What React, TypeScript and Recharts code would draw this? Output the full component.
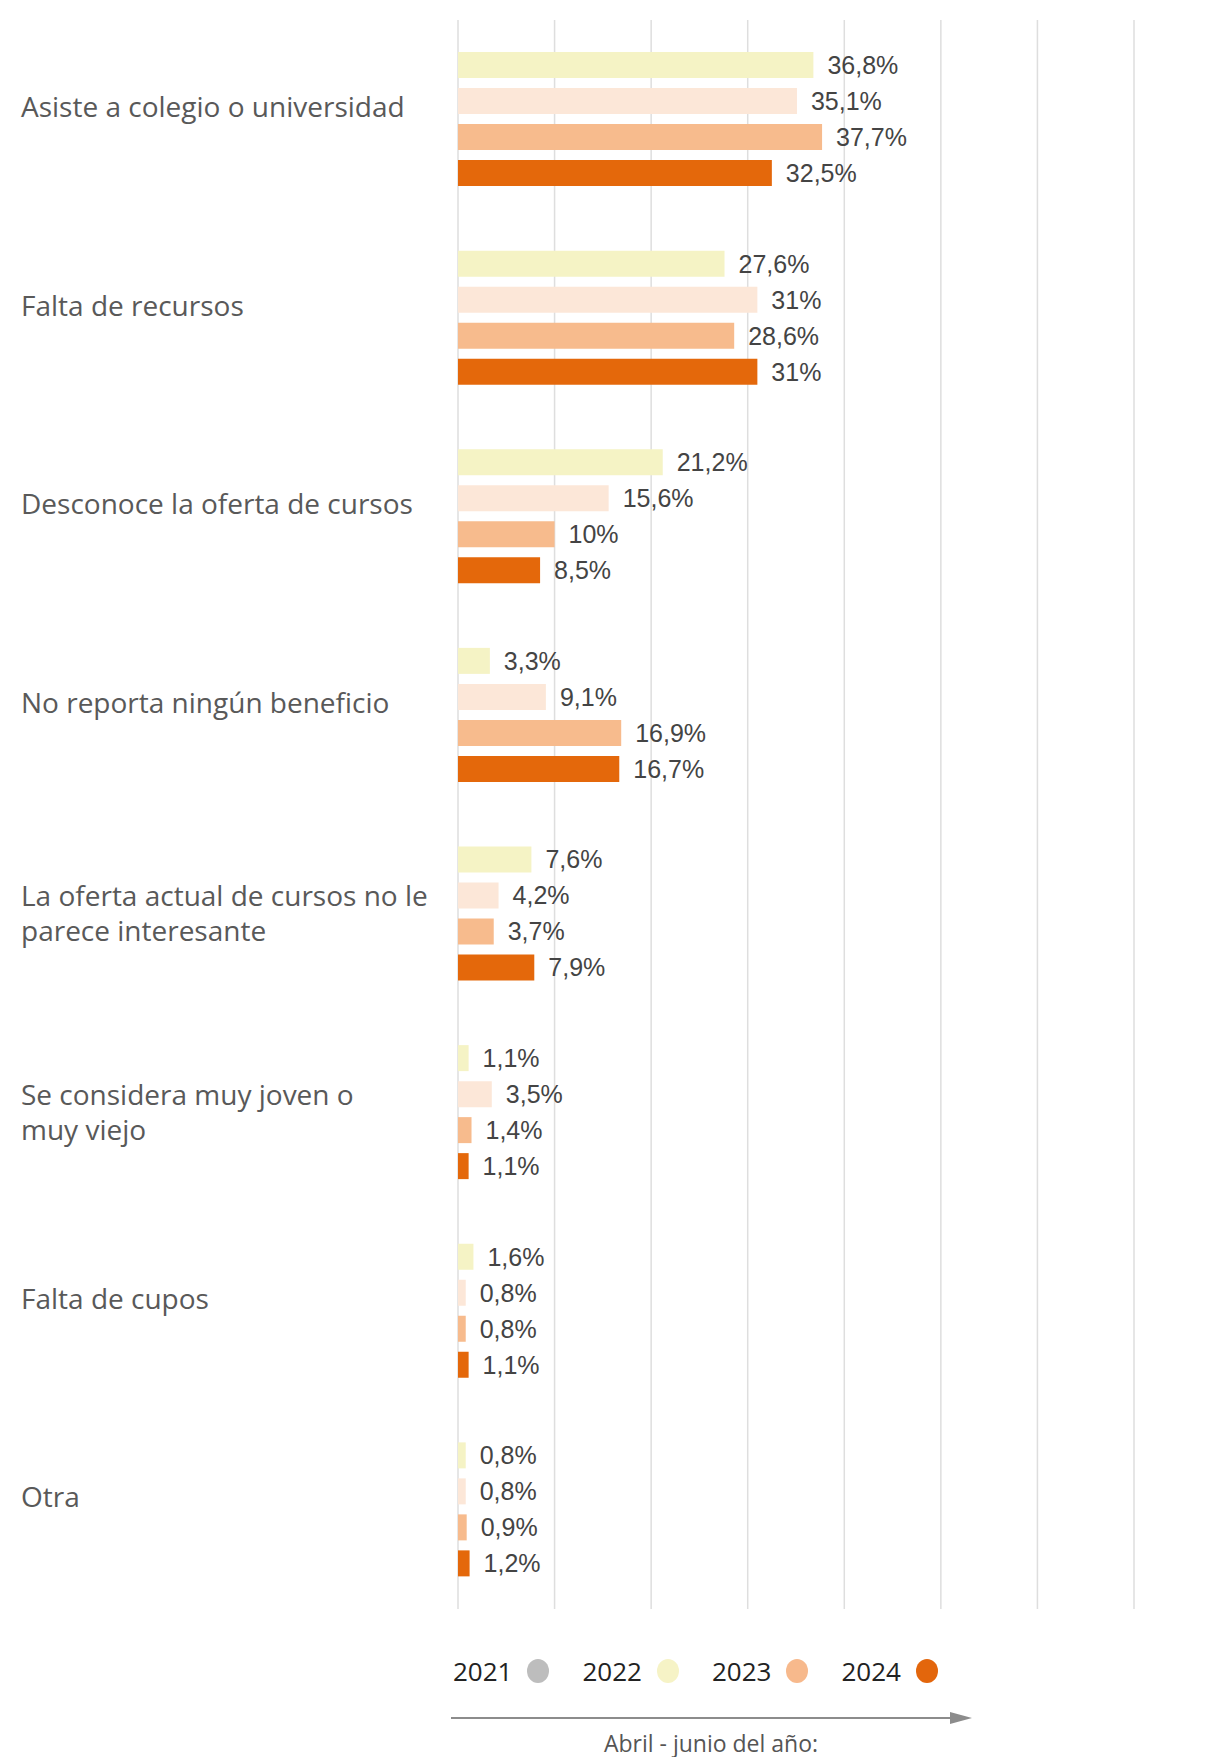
import React from 'react';
import { BarChart, Bar, XAxis, YAxis, CartesianGrid, LabelList } from 'recharts';

const categories = [
  'Asiste a colegio o universidad',
  'Falta de recursos',
  'Desconoce la oferta de cursos',
  'No reporta ningún beneficio',
  'La oferta actual de cursos no le\nparece interesante',
  'Se considera muy joven o\nmuy viejo',
  'Falta de cupos',
  'Otra',
];

const values2021 = [36.8, 27.6, 21.2, 3.3, 7.6, 1.1, 1.6, 0.8];
const values2022 = [35.1, 31, 15.6, 9.1, 4.2, 3.5, 0.8, 0.8];
const values2023 = [37.7, 28.6, 10, 16.9, 3.7, 1.4, 0.8, 0.9];
const values2024 = [32.5, 31, 8.5, 16.7, 7.9, 1.1, 1.1, 1.2];

const xTicks = [0, 10, 20, 30, 40, 50, 60, 70];

const legendYears = ['2021', '2022', '2023', '2024'];
const legendColors = ['#bdbdbd', '#f6f3c6', '#f7b98c', '#e3660c'];

const series = [
  { key: 'v2021', name: '2021', color: '#f5f3c5' },
  { key: 'v2022', name: '2022', color: '#fce7d8' },
  { key: 'v2023', name: '2023', color: '#f7bb8d' },
  { key: 'v2024', name: '2024', color: '#e4680b' },
];

const data = categories.map((category, i) => ({
  category,
  v2021: values2021[i],
  v2022: values2022[i],
  v2023: values2023[i],
  v2024: values2024[i],
}));

const fmt = (v: any) => `${String(v).replace('.', ',')}%`;

const LABEL_X = 21;

const CategoryTick = ({ y, payload }: any) => {
  const lines = String(payload.value).split('\n');
  const lineH = 35;
  const startY = lines.length > 1 ? y - ((lines.length - 1) * lineH) / 2 : y - 12;
  return (
    <text x={LABEL_X} y={startY} fill="#595959" fontSize={28} fontFamily="'Open Sans', sans-serif">
      {lines.map((l, i) => (
        <tspan key={i} x={LABEL_X} dy={i === 0 ? '0.35em' : lineH}>
          {l}
        </tspan>
      ))}
    </text>
  );
};

export default function App() {
  return (
    <div
      style={{
        position: 'absolute',
        left: 0,
        top: 0,
        width: 1214,
        height: 1757,
        overflow: 'hidden',
        background: '#fff',
        fontFamily: "'Open Sans', sans-serif",
      }}
    >
      <BarChart
        width={1214}
        height={1640}
        data={data}
        layout="vertical"
        margin={{ top: 20, right: 80, bottom: 31, left: 0 }}
        barSize={26}
        barGap={10}
      >
        <CartesianGrid horizontal={false} stroke="#dedede" strokeWidth={1.5} />
        <XAxis type="number" domain={[0, 70]} ticks={xTicks} hide />
        <YAxis
          type="category"
          dataKey="category"
          width={458}
          axisLine={false}
          tickLine={false}
          interval={0}
          tick={<CategoryTick />}
        />
        {series.map((s) => (
          <Bar key={s.key} dataKey={s.key} name={s.name} fill={s.color} isAnimationActive={false}>
            <LabelList
              dataKey={s.key}
              position="right"
              offset={14}
              formatter={fmt}
              fill="#444"
              fontSize={25}
              fontFamily="'Liberation Sans', Arial, sans-serif"
            />
          </Bar>
        ))}
      </BarChart>

      {/* legend */}
      <div
        style={{
          position: 'absolute',
          left: 453,
          top: 1653,
          display: 'flex',
          alignItems: 'center',
          gap: 33,
          fontSize: 26,
          color: '#222',
        }}
      >
        {legendYears.map((y, i) => (
          <div key={y} style={{ display: 'flex', alignItems: 'center', gap: 15 }}>
            <span>{y}</span>
            <span
              style={{
                display: 'inline-block',
                width: 22,
                height: 24,
                borderRadius: '50%',
                background: legendColors[i],
              }}
            />
          </div>
        ))}
      </div>

      {/* arrow */}
      <svg style={{ position: 'absolute', left: 448, top: 1708 }} width={530} height={22}>
        <line x1={3} y1={10} x2={510} y2={10} stroke="#8c8c8c" strokeWidth={2} />
        <polygon points="502,4 524,10 502,16" fill="#8c8c8c" />
      </svg>

      <div
        style={{
          position: 'absolute',
          left: 0,
          width: 1422,
          top: 1727,
          textAlign: 'center',
          fontSize: 23,
          color: '#555',
        }}
      >
        Abril - junio del año:
      </div>
    </div>
  );
}
